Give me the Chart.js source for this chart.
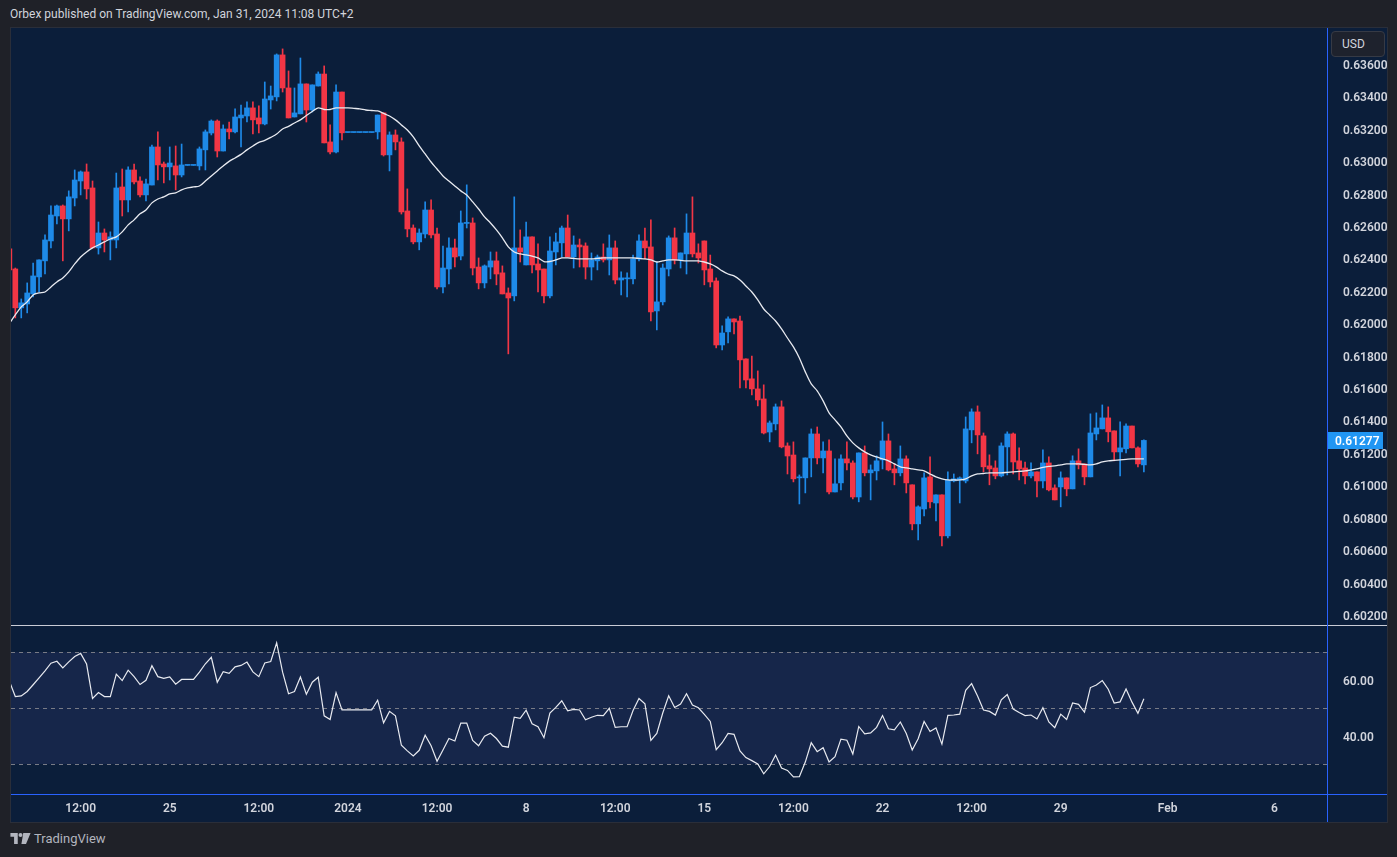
<!DOCTYPE html>
<html>
<head>
<meta charset="utf-8">
<script src="https://cdn.jsdelivr.net/npm/chart.js@4.4.1/dist/chart.umd.min.js"></script>
<style>
body { margin:0; width:1397px; height:857px; background:#1f2128; font-family: Roboto, "Noto Sans", sans-serif; overflow:hidden; position:relative; }
#hdr { position:absolute; left:10px; top:6px; color:#d1d4dc; font-size:12px; line-height:16px; }
#frame { position:absolute; left:10px; top:27px; width:1376px; height:794px; background:#0b1e3a; border:1px solid #2a2e39; }
#price { position:absolute; left:0; top:0; }
#rsi { position:absolute; left:0; top:598px; }
.sep { position:absolute; left:0; top:597px; width:1376px; height:1px; background:#c9ccd6; }
.vline { position:absolute; left:1316px; top:0; width:1px; height:794px; background:#2962ff; }
.hline { position:absolute; left:0; top:766px; width:1376px; height:1px; background:#2962ff; }
#usd { position:absolute; left:1320px; top:3px; width:50px; height:24px; background:#1e222d; border:1px solid #363a45; border-radius:4px; color:#d1d4dc; font-size:12px; line-height:24px; padding-left:2px; box-sizing:content-box; text-indent:8px; }
#foot { position:absolute; left:10px; top:831px; color:#b2b5be; font-size:13px; display:flex; align-items:center; gap:3px; }
</style>
</head>
<body>
<div id="hdr">Orbex published on TradingView.com, Jan 31, 2024 11:08 UTC+2</div>
<div id="frame">
  <canvas id="price" width="1376" height="597"></canvas>
  <div class="sep"></div>
  <canvas id="rsi" width="1376" height="196"></canvas>
  <div class="vline"></div>
  <div class="hline"></div>
  <div id="usd">USD</div>
</div>
<div id="foot">
  <svg width="21" height="11" viewBox="0 0 22 12"><path d="M0 0h8v12H4V4H0z" fill="#b2b5be"/><circle cx="11" cy="2.2" r="2.2" fill="#b2b5be"/><path d="M14 0h8l-5 12h-5z" fill="#b2b5be"/></svg>
  <span>TradingView</span>
</div>
<script>
// 4H candles, index 0 is the partly hidden one at the left edge
var opens = [0.62459,0.62335,0.62095,0.62119,0.62181,0.62286,0.62385,0.62508,0.62662,0.62724,
0.62644,0.62773,0.62878,0.62934,0.62835,0.62465,0.62557,0.62514,0.62514,0.62841,
0.62761,0.62946,0.62878,0.62792,0.62853,0.63088,0.62983,0.62965,0.62971,0.62915,
0.62974,0.62974,0.62971,0.63070,0.63174,0.63248,0.63063,0.63199,0.63181,0.63267,
0.63279,0.63329,0.63267,0.63230,0.63378,0.63397,0.63656,0.63452,0.63273,0.63292,
0.63477,0.63316,0.63464,0.63538,0.63119,0.63057,0.63427,0.63177,0.63177,0.63177,
0.63177,0.63177,0.63181,0.63298,0.63039,0.63162,0.63119,0.62693,0.62588,0.62502,
0.62551,0.62699,0.62551,0.62224,0.62335,0.62465,0.62415,0.62616,0.62619,0.62347,
0.62249,0.62347,0.62385,0.62311,0.62187,0.62169,0.62465,0.62360,0.62533,0.62366,
0.62335,0.62169,0.62440,0.62496,0.62588,0.62409,0.62483,0.62477,0.62347,0.62385,
0.62409,0.62391,0.62465,0.62267,0.62274,0.62274,0.62397,0.62508,0.62471,0.62076,
0.62132,0.62335,0.62527,0.62391,0.62428,0.62557,0.62434,0.62508,0.62335,0.62261,
0.61866,0.61947,0.62027,0.62014,0.61780,0.61657,0.61595,0.61533,0.61329,0.61379,
0.61484,0.61243,0.61187,0.61046,0.61046,0.61169,0.61317,0.61169,0.61212,0.60959,
0.61015,0.61163,0.61138,0.60928,0.61200,0.61077,0.61089,0.61157,0.61274,0.61101,
0.61077,0.61163,0.61003,0.60762,0.60854,0.61052,0.60891,0.60941,0.60688,0.61027,
0.61033,0.61027,0.61342,0.61453,0.61305,0.61120,0.61107,0.61058,0.61237,0.61317,
0.61151,0.61107,0.61058,0.61083,0.61027,0.61138,0.60984,0.60990,0.61046,0.60978,
0.61151,0.61132,0.61052,0.61317,0.61348,0.61416,0.61336,0.61206,0.61225,0.61366,
0.61231,0.61126];
var highs = [0.62471,0.62341,0.62150,0.62249,0.62372,0.62391,0.62545,0.62724,0.62730,0.62730,
0.62817,0.62946,0.62940,0.62983,0.62878,0.62625,0.62582,0.62564,0.62927,0.62952,
0.62965,0.62983,0.62903,0.62890,0.63100,0.63181,0.62995,0.63088,0.63094,0.63106,
0.62974,0.62974,0.63088,0.63193,0.63255,0.63255,0.63224,0.63242,0.63323,0.63347,
0.63366,0.63366,0.63341,0.63489,0.63464,0.63662,0.63693,0.63557,0.63452,0.63637,
0.63477,0.63471,0.63551,0.63588,0.63224,0.63471,0.63427,0.63177,0.63177,0.63177,
0.63177,0.63177,0.63285,0.63298,0.63181,0.63193,0.63144,0.62829,0.62607,0.62582,
0.62749,0.62761,0.62588,0.62477,0.62527,0.62520,0.62693,0.62854,0.62650,0.62403,
0.62360,0.62440,0.62440,0.62354,0.62218,0.62780,0.62576,0.62625,0.62533,0.62490,
0.62335,0.62533,0.62557,0.62600,0.62668,0.62539,0.62520,0.62496,0.62434,0.62421,
0.62490,0.62545,0.62508,0.62317,0.62311,0.62421,0.62545,0.62588,0.62638,0.62378,
0.62366,0.62539,0.62588,0.62434,0.62675,0.62780,0.62490,0.62508,0.62421,0.62280,
0.61984,0.62039,0.62027,0.62045,0.61780,0.61798,0.61706,0.61620,0.61397,0.61502,
0.61521,0.61262,0.61268,0.61064,0.61169,0.61348,0.61360,0.61268,0.61280,0.61163,
0.61188,0.61268,0.61151,0.61200,0.61243,0.61126,0.61182,0.61391,0.61317,0.61132,
0.61243,0.61182,0.61003,0.60873,0.61077,0.61175,0.60941,0.60941,0.61083,0.61070,
0.61052,0.61422,0.61472,0.61490,0.61323,0.61188,0.61151,0.61262,0.61330,0.61323,
0.61231,0.61144,0.61138,0.61083,0.61219,0.61175,0.61003,0.61083,0.61046,0.61182,
0.61225,0.61132,0.61441,0.61447,0.61496,0.61484,0.61336,0.61391,0.61379,0.61366,
0.61237,0.61280];
var lows = [0.62317,0.62033,0.62033,0.62064,0.62163,0.62193,0.62304,0.62465,0.62613,0.62385,
0.62570,0.62724,0.62792,0.62767,0.62465,0.62427,0.62440,0.62391,0.62465,0.62662,
0.62687,0.62860,0.62780,0.62755,0.62853,0.62884,0.62866,0.62884,0.62823,0.62903,
0.62974,0.62974,0.62946,0.62946,0.63162,0.63026,0.63063,0.63137,0.63174,0.63088,
0.63242,0.63168,0.63174,0.63224,0.63322,0.63372,0.63427,0.63267,0.63273,0.63292,
0.63242,0.63304,0.63464,0.63113,0.63045,0.63051,0.63131,0.63177,0.63177,0.63177,
0.63177,0.63177,0.63137,0.63032,0.62940,0.63070,0.62674,0.62533,0.62490,0.62453,
0.62527,0.62527,0.62212,0.62187,0.62243,0.62347,0.62391,0.62588,0.62298,0.62212,
0.62218,0.62274,0.62237,0.62181,0.61811,0.62138,0.62378,0.62360,0.62311,0.62193,
0.62126,0.62156,0.62360,0.62409,0.62409,0.62341,0.62347,0.62273,0.62267,0.62329,
0.62378,0.62298,0.62243,0.62175,0.62163,0.62243,0.62385,0.62397,0.62014,0.61959,
0.62113,0.62292,0.62366,0.62341,0.62304,0.62409,0.62372,0.62237,0.62224,0.61848,
0.61836,0.61878,0.61934,0.61601,0.61601,0.61558,0.61490,0.61317,0.61268,0.61342,
0.61231,0.61070,0.61021,0.60885,0.60953,0.61052,0.61132,0.61077,0.60947,0.60959,
0.60972,0.61095,0.60916,0.60898,0.61058,0.60910,0.61033,0.61101,0.61089,0.61003,
0.61058,0.60953,0.60725,0.60663,0.60811,0.60860,0.60780,0.60626,0.60675,0.61021,
0.60891,0.61015,0.61262,0.61194,0.61083,0.61003,0.61040,0.61052,0.61064,0.61070,
0.61033,0.61009,0.61046,0.60928,0.60984,0.60966,0.60910,0.60867,0.60935,0.60978,
0.61101,0.61003,0.61052,0.61280,0.61348,0.61268,0.61151,0.61058,0.61200,0.61231,
0.61114,0.61083];
var closes = [0.62329,0.62095,0.62126,0.62187,0.62292,0.62391,0.62514,0.62668,0.62724,0.62644,
0.62780,0.62884,0.62934,0.62829,0.62465,0.62557,0.62514,0.62533,0.62835,0.62761,
0.62946,0.62872,0.62792,0.62860,0.63088,0.62977,0.62965,0.62989,0.62915,0.62977,
0.62974,0.62974,0.63076,0.63181,0.63248,0.63063,0.63199,0.63181,0.63273,0.63285,
0.63329,0.63255,0.63230,0.63384,0.63403,0.63656,0.63452,0.63267,0.63298,0.63477,
0.63316,0.63471,0.63538,0.63113,0.63057,0.63427,0.63175,0.63177,0.63177,0.63177,
0.63177,0.63177,0.63285,0.63039,0.63162,0.63119,0.62687,0.62582,0.62502,0.62557,
0.62699,0.62545,0.62224,0.62341,0.62465,0.62409,0.62619,0.62619,0.62341,0.62249,
0.62354,0.62385,0.62304,0.62181,0.62156,0.62465,0.62440,0.62533,0.62360,0.62329,
0.62169,0.62446,0.62502,0.62588,0.62409,0.62483,0.62471,0.62347,0.62391,0.62409,
0.62391,0.62465,0.62267,0.62280,0.62280,0.62397,0.62508,0.62465,0.62070,0.62132,
0.62341,0.62527,0.62391,0.62434,0.62557,0.62428,0.62403,0.62329,0.62255,0.61866,
0.61940,0.62027,0.62008,0.61774,0.61650,0.61595,0.61527,0.61323,0.61385,0.61484,
0.61237,0.61181,0.61040,0.61052,0.61169,0.61317,0.61169,0.61212,0.60959,0.61009,
0.61163,0.61138,0.60928,0.61200,0.61077,0.61095,0.61151,0.61274,0.61095,0.61077,
0.61163,0.61015,0.60762,0.60867,0.61046,0.60898,0.60941,0.60688,0.61033,0.61040,
0.61046,0.61348,0.61453,0.61311,0.61114,0.61101,0.61058,0.61243,0.61317,0.61144,
0.61101,0.61058,0.61083,0.61027,0.61138,0.60972,0.60910,0.61046,0.60978,0.61151,
0.61126,0.61052,0.61323,0.61354,0.61416,0.61330,0.61206,0.61231,0.61366,0.61231,
0.61132,0.61277];
// moving average line as drawn on the chart
var ma = [0.61999,0.62051,0.62101,0.62132,0.62175,0.62187,0.62193,0.62224,0.62255,0.62280,
0.62317,0.62366,0.62409,0.62440,0.62465,0.62483,0.62502,0.62520,0.62533,0.62564,
0.62607,0.62638,0.62675,0.62699,0.62743,0.62767,0.62780,0.62798,0.62804,0.62823,
0.62835,0.62841,0.62847,0.62878,0.62909,0.62940,0.62971,0.62999,0.63020,0.63042,
0.63070,0.63094,0.63116,0.63128,0.63147,0.63168,0.63199,0.63215,0.63236,0.63255,
0.63282,0.63307,0.63329,0.63319,0.63319,0.63329,0.63329,0.63329,0.63326,0.63323,
0.63316,0.63313,0.63310,0.63295,0.63279,0.63255,0.63224,0.63193,0.63150,0.63094,
0.63045,0.62995,0.62952,0.62909,0.62878,0.62847,0.62817,0.62792,0.62749,0.62705,
0.62656,0.62619,0.62576,0.62527,0.62471,0.62440,0.62428,0.62422,0.62415,0.62403,
0.62381,0.62381,0.62391,0.62403,0.62403,0.62400,0.62397,0.62397,0.62397,0.62400,
0.62403,0.62403,0.62403,0.62403,0.62403,0.62403,0.62400,0.62397,0.62391,0.62378,
0.62385,0.62391,0.62391,0.62388,0.62385,0.62385,0.62385,0.62378,0.62366,0.62348,
0.62323,0.62304,0.62292,0.62267,0.62230,0.62193,0.62144,0.62088,0.62051,0.62014,
0.61965,0.61909,0.61854,0.61786,0.61700,0.61626,0.61583,0.61521,0.61447,0.61404,
0.61360,0.61305,0.61262,0.61231,0.61206,0.61188,0.61175,0.61163,0.61151,0.61132,
0.61114,0.61107,0.61101,0.61095,0.61089,0.61070,0.61052,0.61040,0.61033,0.61033,
0.61033,0.61040,0.61058,0.61070,0.61073,0.61077,0.61077,0.61077,0.61080,0.61083,
0.61086,0.61089,0.61095,0.61101,0.61111,0.61117,0.61120,0.61126,0.61132,0.61132,
0.61132,0.61129,0.61126,0.61132,0.61144,0.61151,0.61154,0.61157,0.61160,0.61163,
0.61163,0.61163];
var rsi = [59.6,54.1,54.3,55.9,58.3,60.8,63.3,66.0,66.7,64.3,
66.5,68.4,69.5,65.7,53.4,55.5,54.1,54.1,62.1,59.8,
63.5,61.2,58.4,59.9,65.1,61.2,60.6,61.1,58.5,60.2,
60.2,60.2,62.8,65.8,68.1,59.2,63.0,62.4,64.7,65.2,
66.4,62.9,61.2,66.1,66.6,73.3,62.8,55.1,55.9,61.1,
54.9,59.2,61.0,47.2,45.9,55.5,49.3,49.3,49.3,49.3,
49.3,49.3,52.8,44.7,48.8,47.2,36.7,34.7,32.9,34.9,
40.3,36.5,31.0,35.0,39.1,38.2,44.6,44.6,38.4,36.5,
39.9,41.0,39.1,36.4,36.0,46.7,46.3,49.2,44.4,43.3,
39.4,48.2,50.2,52.6,49.0,49.5,49.3,45.8,46.7,47.4,
47.3,49.9,43.1,43.3,43.3,49.1,53.4,51.5,38.4,40.9,
48.2,54.4,50.2,51.4,55.1,51.1,50.1,47.7,45.2,35.1,
37.6,40.9,40.6,34.7,32.3,31.2,30.0,26.5,29.1,33.2,
28.6,27.7,25.4,25.5,30.7,37.6,34.4,35.8,30.7,32.6,
38.9,38.5,33.6,43.4,40.8,41.1,43.1,47.3,42.6,42.2,
45.0,40.9,35.0,39.0,45.2,41.6,42.9,37.1,47.4,47.5,
47.8,56.3,58.7,54.3,49.3,48.8,47.5,52.9,54.8,49.6,
48.4,47.3,47.5,46.1,50.1,45.0,43.0,47.8,45.9,51.8,
51.3,48.5,57.3,58.2,59.8,56.7,51.8,52.2,56.8,52.1,
48.1,53.3];

var timePos = [12, 27, 42, 57, 72, 87, 102, 117, 132, 147, 162, 177, 195, 213];
var timeLabels = ['12:00', '25', '12:00', '2024', '12:00', '8', '12:00', '15', '12:00', '22', '12:00', '29', 'Feb', '6'];
var priceTicks = [0.602, 0.604, 0.606, 0.608, 0.610, 0.612, 0.614, 0.616, 0.618, 0.620, 0.622, 0.624, 0.626, 0.628, 0.630, 0.632, 0.634, 0.636];
var rsiTicks = [40, 60];
var rsiUpper = 70, rsiMid = 50, rsiLower = 30;

var upColor = '#1e8ae8';
var downColor = '#f23645';
var textColor = '#d1d4dc';
var xMin = 0.275, xMax = 221.83;

var colors = [];
for (var i = 0; i < opens.length; i++) {
	colors.push(closes[i] >= opens[i] ? upColor : downColor);
}

// keep Chart.js from shrinking the plot area to make room for edge labels
function noPad(s) {
	s.paddingTop = 0;
	s.paddingBottom = 0;
	s.paddingLeft = 0;
	s.paddingRight = 0;
}

var lastPricePlugin = {
	id: 'lastPrice',
	afterDraw: function (chart) {
		var ctx = chart.ctx;
		var last = closes[closes.length - 1];
		var y = chart.scales.y.getPixelForValue(last);
		var x = chart.chartArea.right + 1;
		ctx.save();
		ctx.fillStyle = '#2196f3';
		ctx.fillRect(x, Math.round(y) - 8, 55, 17);
		ctx.fillStyle = '#ffffff';
		ctx.font = '600 12px Roboto';
		ctx.textBaseline = 'middle';
		ctx.fillText(last.toFixed(5), x + 7, Math.round(y) + 1.5);
		ctx.restore();
	}
};

var priceChart = new Chart(document.getElementById('price'), {
	type: 'bar',
	data: {
		datasets: [{
			data: lows.map(function (l, i) { return { x: i, y: [l, highs[i]] }; }),
			backgroundColor: colors,
			barThickness: 1,
			grouped: false,
			order: 2
		}, {
			data: opens.map(function (o, i) { return { x: i, y: [o, closes[i]] }; }),
			backgroundColor: colors,
			barThickness: 5,
			minBarLength: 1,
			grouped: false,
			order: 1
		}, {
			type: 'line',
			data: ma.map(function (v, i) { return { x: i, y: v }; }),
			borderColor: '#e8eaf0',
			borderWidth: 1.3,
			pointRadius: 0,
			tension: 0.3,
			order: 0
		}]
	},
	options: {
		responsive: false,
		animation: false,
		devicePixelRatio: 1,
		layout: { padding: 0 },
		plugins: { legend: { display: false }, tooltip: { enabled: false } },
		scales: {
			x: { type: 'linear', min: xMin, max: xMax, display: false, offset: false },
			y: {
				position: 'right',
				min: 0.60138,
				max: 0.63822,
				grid: { display: false },
				border: { display: false },
				ticks: {
					color: textColor,
					padding: 8,
					labelOffset: 2,
					font: { family: 'Roboto', size: 12, weight: '600' },
					callback: function (v) { return v.toFixed(5); }
				},
				afterBuildTicks: function (s) { s.ticks = priceTicks.map(function (v) { return { value: v }; }); },
				afterFit: function (s) { s.width = 60; noPad(s); }
			}
		}
	},
	plugins: [lastPricePlugin]
});

var bandPlugin = {
	id: 'rsiBand',
	beforeDatasetsDraw: function (chart) {
		var ctx = chart.ctx;
		var a = chart.chartArea;
		var ys = chart.scales.y;
		var top = ys.getPixelForValue(rsiUpper);
		var bottom = ys.getPixelForValue(rsiLower);
		ctx.save();
		ctx.fillStyle = '#16264a';
		ctx.fillRect(a.left, top, a.right - a.left, bottom - top);
		ctx.strokeStyle = '#787b86';
		ctx.lineWidth = 1;
		ctx.setLineDash([4, 4]);
		[rsiUpper, rsiMid, rsiLower].forEach(function (v) {
			var y = Math.round(ys.getPixelForValue(v)) + 0.5;
			ctx.beginPath();
			ctx.moveTo(a.left, y);
			ctx.lineTo(a.right, y);
			ctx.stroke();
		});
		ctx.restore();
	}
};

var rsiChart = new Chart(document.getElementById('rsi'), {
	type: 'line',
	data: {
		datasets: [{
			data: rsi.map(function (v, i) { return { x: i, y: v }; }),
			borderColor: '#e8eaf0',
			borderWidth: 1.2,
			pointRadius: 0,
			tension: 0
		}]
	},
	options: {
		responsive: false,
		animation: false,
		devicePixelRatio: 1,
		layout: { padding: 0 },
		plugins: { legend: { display: false }, tooltip: { enabled: false } },
		scales: {
			x: {
				type: 'linear', min: xMin, max: xMax, offset: false,
				grid: { display: false },
				border: { display: false },
				ticks: {
					color: textColor,
					padding: 0,
					autoSkip: false,
					maxRotation: 0,
					font: { family: 'Roboto', size: 12, weight: '600' },
					callback: function (v, i) { return timeLabels[i]; }
				},
				afterBuildTicks: function (s) { s.ticks = timePos.map(function (v) { return { value: v }; }); },
				afterFit: function (s) { s.height = 28; noPad(s); }
			},
			y: {
				position: 'right',
				min: 19.29,
				max: 79.29,
				grid: { display: false },
				border: { display: false },
				ticks: {
					color: textColor,
					padding: 8,
					labelOffset: 2,
					font: { family: 'Roboto', size: 12, weight: '600' },
					callback: function (v) { return v.toFixed(2); }
				},
				afterBuildTicks: function (s) { s.ticks = rsiTicks.map(function (v) { return { value: v }; }); },
				afterFit: function (s) { s.width = 60; noPad(s); }
			}
		}
	},
	plugins: [bandPlugin]
});
</script>
</body>
</html>
